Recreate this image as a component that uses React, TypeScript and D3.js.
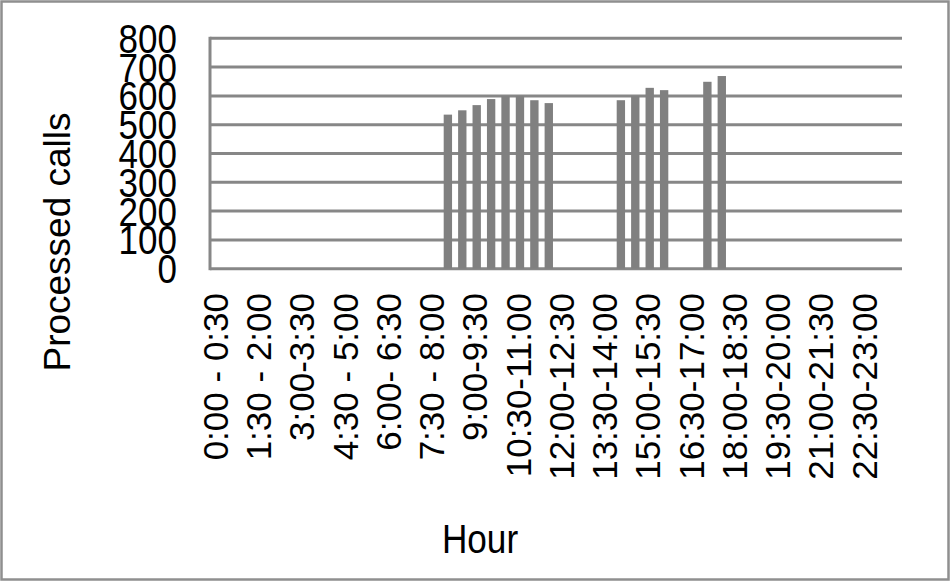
import React, { useEffect, useRef } from "react";
import * as d3 from "d3";

// half-hour slots, 48 of them
const slots = [
  "0:00 - 0:30", "0:30 - 1:00", "1:00 - 1:30", "1:30 - 2:00", "2:00 - 2:30", "2:30 - 3:00",
  "3:00-3:30", "3:30 - 4:00", "4:00 - 4:30", "4:30 - 5:00", "5:00 - 5:30", "5:30 - 6:00",
  "6:00- 6:30", "6:30 - 7:00", "7:00 - 7:30", "7:30 - 8:00", "8:00 - 8:30", "8:30-9:00",
  "9:00-9:30", "9:30-10:00", "10:00-10:30", "10:30-11:00", "11:00-11:30", "11:30-12:00",
  "12:00-12:30", "12:30-13:00", "13:00-13:30", "13:30-14:00", "14:00-14:30", "14:30-15:00",
  "15:00-15:30", "15:30-16:00", "16:00-16:30", "16:30-17:00", "17:00-17:30", "17:30-18:00",
  "18:00-18:30", "18:30-19:00", "19:00-19:30", "19:30-20:00", "20:00-20:30", "20:30-21:00",
  "21:00-21:30", "21:30-22:00", "22:00-22:30", "22:30-23:00", "23:00-23:30", "23:30-24:00",
];

const calls = [
  0, 0, 0, 0, 0, 0, 0, 0, 0, 0, 0, 0, 0, 0, 0, 0,
  535, 550, 568, 589, 600, 600, 585, 575,
  0, 0, 0, 0,
  585, 600, 628, 620,
  0, 0,
  649, 669,
  0, 0, 0, 0, 0, 0, 0, 0, 0, 0, 0, 0,
];

const yTicks = [0, 100, 200, 300, 400, 500, 600, 700, 800];

const W = 951;
const H = 582;
const FONT = "'Liberation Sans', Arial, sans-serif";

const App = () => {
  const ref = useRef<SVGSVGElement | null>(null);

  useEffect(() => {
    const svg = d3.select(ref.current);
    svg.selectAll("*").remove();

    const left = 210;
    const right = 902;
    const top = 38.3;
    const bottom = 268.7;

    const x = d3
      .scaleBand()
      .domain(slots)
      .range([left, right])
      .paddingInner(0.42)
      .paddingOuter(0.21);

    const y = d3.scaleLinear().domain([0, 800]).range([bottom, top]);

    svg.append("rect").attr("width", W).attr("height", H).attr("fill", "#fff");

    // outer border
    svg
      .append("rect")
      .attr("x", 1.5)
      .attr("y", 1.5)
      .attr("width", W - 4)
      .attr("height", H - 4)
      .attr("fill", "none")
      .attr("stroke", "#8f8f8f")
      .attr("stroke-width", 2.5);

    // gridlines
    svg
      .append("g")
      .selectAll("line")
      .data(yTicks)
      .join("line")
      .attr("x1", left)
      .attr("x2", right)
      .attr("y1", (d) => y(d))
      .attr("y2", (d) => y(d))
      .attr("stroke", "#878787")
      .attr("stroke-width", 3);

    // vertical axis line
    svg
      .append("line")
      .attr("x1", left)
      .attr("x2", left)
      .attr("y1", y(800) - 1.5)
      .attr("y2", y(0) + 1.5)
      .attr("stroke", "#878787")
      .attr("stroke-width", 3);

    // bars
    svg
      .append("g")
      .selectAll("rect")
      .data(slots.map((s, i) => ({ slot: s, value: calls[i] })).filter((d) => d.value > 0))
      .join("rect")
      .attr("x", (d) => x(d.slot)!)
      .attr("width", x.bandwidth())
      .attr("y", (d) => y(d.value))
      .attr("height", (d) => y(0) - y(d.value))
      .attr("fill", "#808080");

    // y tick labels (the source stretches them a little vertically)
    svg
      .append("g")
      .selectAll("text")
      .data(yTicks)
      .join("text")
      .attr("transform", (d) => `translate(177,${y(d)}) scale(1,1.15)`)
      .attr("dy", "0.36em")
      .attr("text-anchor", "end")
      .attr("font-family", FONT)
      .attr("font-size", 35)
      .attr("fill", "#000")
      .text((d) => d);

    // x tick labels, every third slot
    svg
      .append("g")
      .selectAll("text")
      .data(slots.filter((_, i) => i % 3 === 0))
      .join("text")
      .attr(
        "transform",
        (d) => `translate(${x(d)! + x.bandwidth() / 2 - 2},293) rotate(-90)`
      )
      .attr("dy", "0.36em")
      .attr("text-anchor", "end")
      .attr("font-family", FONT)
      .attr("font-size", 35)
      .attr("fill", "#000")
      .text((d) => d);

    // axis titles
    svg
      .append("text")
      .attr("transform", "translate(70,242) rotate(-90)")
      .attr("text-anchor", "middle")
      .attr("font-family", FONT)
      .attr("font-size", 37)
      .attr("fill", "#000")
      .text("Processed calls");

    svg
      .append("text")
      .attr("transform", "translate(480,553) scale(0.95,1.1)")
      .attr("text-anchor", "middle")
      .attr("font-family", FONT)
      .attr("font-size", 37)
      .attr("fill", "#000")
      .text("Hour");
  }, []);

  return (
    <div style={{ position: "absolute", left: 0, top: 0 }}>
      <svg ref={ref} width={W} height={H} style={{ display: "block" }} />
    </div>
  );
};

export default App;
